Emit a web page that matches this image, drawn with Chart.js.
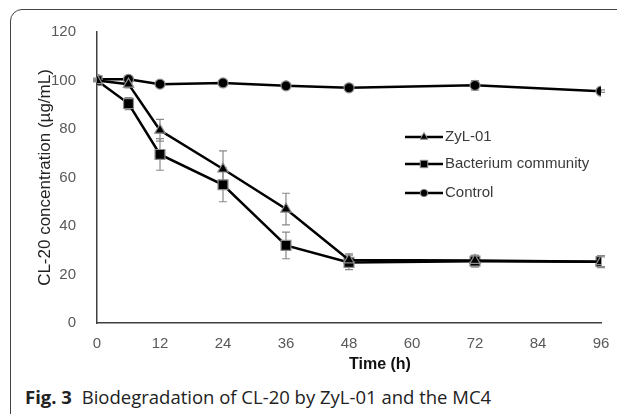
<!DOCTYPE html>
<html>
<head>
<meta charset="utf-8">
<script src="https://cdn.jsdelivr.net/npm/chart.js@4.4.1/dist/chart.umd.min.js"></script>
<style>
  body { margin: 0; background: #fff; width: 617px; height: 414px; overflow: hidden; position: relative; }
  #frame { position: absolute; left: 10px; top: 9px; width: 800px; height: 600px; border: 1.5px solid #444; border-radius: 12px; }
  #wrap { position: absolute; left: 0; top: 0; width: 617px; height: 380px; }
  #xtitle { position: absolute; left: 349px; top: 355px; font: bold 16px "Liberation Sans", Arial, sans-serif; color: #111; }
  #caption { position: absolute; left: 25px; top: 384px; font: 18.5px "Open Sans", sans-serif; color: #222; white-space: nowrap; }
  #caption b { margin-right: 5px; }
</style>
</head>
<body>
<div id="frame"></div>
<div id="wrap"><canvas id="chart"></canvas></div>
<div id="xtitle">Time (h)</div>
<div id="caption"><b>Fig. 3</b> Biodegradation of CL-20 by ZyL-01 and the MC4</div>
<script>
const times = [0, 6, 12, 24, 36, 48, 72, 96];
const zylValues = [100, 98.5, 79.5, 63.5, 47, 26, 25.8, 25.3];
const zylErrors = [0.5, 1.5, 4.5, 7.5, 6.5, 2.5, 2, 2];
const bactValues = [100, 90.5, 69.5, 57, 32, 25, 25.5, 25.3];
const bactErrors = [0.5, 2.5, 6.5, 7, 5.5, 3, 2.5, 2.5];
const controlValues = [100.5, 100.5, 98.5, 99, 97.8, 97, 98, 95.6];
const controlErrors = [0.5, 0.5, 0.5, 0.5, 0.5, 0.5, 2, 0.5];
const seriesNames = ['ZyL-01', 'Bacterium community', 'Control'];
const xTicks = [0, 12, 24, 36, 48, 60, 72, 84, 96];
const yTicks = [0, 20, 40, 60, 80, 100, 120];

function points(vals) {
  return vals.map((v, i) => ({ x: times[i], y: v }));
}

// error bars, drawn under the markers
const errorBars = {
  id: 'errorBars',
  beforeDatasetsDraw(chart) {
    const ctx = chart.ctx;
    const xs = chart.scales.x, ys = chart.scales.y;
    ctx.save();
    ctx.strokeStyle = '#8a8a8a';
    ctx.lineWidth = 1.2;
    chart.data.datasets.forEach(ds => {
      ds.data.forEach((p, i) => {
        const e = ds.errors[i];
        const px = xs.getPixelForValue(p.x);
        const top = ys.getPixelForValue(p.y + e);
        const bot = ys.getPixelForValue(p.y - e);
        ctx.beginPath();
        ctx.moveTo(px, top); ctx.lineTo(px, bot);
        ctx.moveTo(px - 4, top); ctx.lineTo(px + 4, top);
        ctx.moveTo(px - 4, bot); ctx.lineTo(px + 4, bot);
        ctx.stroke();
      });
    });
    ctx.restore();
  }
};

// legend inside the plot: line + marker + text
const lineLegend = {
  id: 'lineLegend',
  afterDraw(chart) {
    const ctx = chart.ctx;
    const rows = [137, 164, 193];
    ctx.save();
    chart.data.datasets.forEach((ds, i) => {
      const y = rows[i];
      ctx.strokeStyle = '#000';
      ctx.lineWidth = 2.5;
      ctx.beginPath();
      ctx.moveTo(405, y); ctx.lineTo(443, y);
      ctx.stroke();
      ctx.fillStyle = '#000';
      ctx.strokeStyle = '#8c8c8c';
      ctx.lineWidth = 1;
      Chart.helpers.drawPoint(ctx, { pointStyle: ds.pointStyle, radius: ds.pointRadius * 0.75, rotation: 0, borderWidth: 1 }, 424, y);
      ctx.fillStyle = '#3a3a3a';
      ctx.font = '15px "Liberation Sans", Arial, sans-serif';
      ctx.textBaseline = 'middle';
      ctx.fillText(ds.label, 445, y);
    });
    ctx.restore();
  }
};

function series(label, vals, errs, style, radius) {
  return {
    label: label,
    data: points(vals),
    errors: errs,
    borderColor: '#000',
    borderWidth: 2.5,
    backgroundColor: '#000',
    pointStyle: style,
    pointRadius: radius,
    pointBorderColor: '#8c8c8c',
    pointBorderWidth: 1.2,
    pointBackgroundColor: '#000',
    tension: 0
  };
}

new Chart(document.getElementById('chart'), {
  type: 'line',
  data: {
    datasets: [
      series(seriesNames[0], zylValues, zylErrors, 'triangle', 6),
      series(seriesNames[1], bactValues, bactErrors, 'rect', 7),
      series(seriesNames[2], controlValues, controlErrors, 'circle', 5)
    ]
  },
  options: {
    responsive: true,
    maintainAspectRatio: false,
    animation: false,
    layout: { padding: { left: 0, right: 16, top: 32, bottom: 0 } },
    plugins: { legend: { display: false }, tooltip: { enabled: false } },
    scales: {
      x: {
        type: 'linear',
        min: 0, max: 96,
        afterBuildTicks: s => { s.ticks = xTicks.map(v => ({ value: v })); },
        afterFit: s => { s.height = 57; },
        grid: { display: false },
        border: { display: true, color: '#404040', width: 1.5 },
        ticks: { color: '#595959', padding: 4, font: { size: 15, family: '"Liberation Sans", Arial, sans-serif' } }
      },
      y: {
        min: 0, max: 120,
        afterBuildTicks: s => { s.ticks = yTicks.map(v => ({ value: v })); },
        afterFit: s => { s.width = 97; },
        grid: { display: false },
        border: { display: true, color: '#404040', width: 1.5 },
        ticks: { color: '#595959', padding: 13, font: { size: 15, family: '"Liberation Sans", Arial, sans-serif' } },
        title: {
          display: true,
          text: 'CL-20 concentration (µg/mL)',
          color: '#222',
          padding: { top: 35, bottom: 0 },
          font: { size: 17, family: '"Liberation Sans", Arial, sans-serif' }
        }
      }
    }
  },
  plugins: [errorBars, lineLegend]
});
</script>
</body>
</html>
